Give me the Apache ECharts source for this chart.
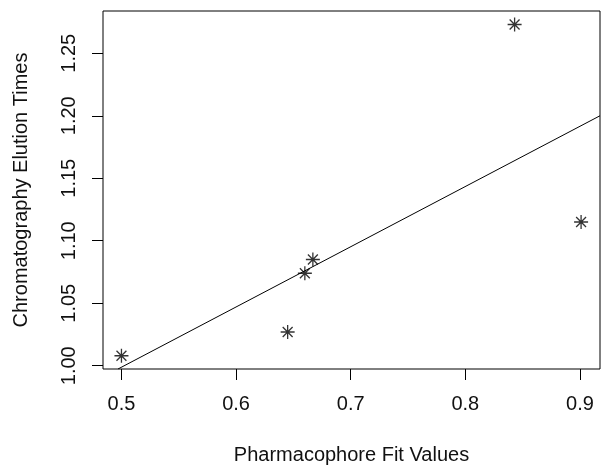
<!DOCTYPE html>
<html>
<head>
<meta charset="utf-8">
<script src="https://cdn.jsdelivr.net/npm/echarts@6/dist/echarts.min.js"></script>
<style>
  html, body { margin: 0; padding: 0; background: #fff; }
  #main { width: 610px; height: 475px; }
</style>
</head>
<body>
<div id="main"></div>
<script>
// points
var fitValues = [0.500, 0.843, 0.901, 0.667, 0.660, 0.645];
var elutionTimes = [1.008, 1.273, 1.115, 1.085, 1.074, 1.027];
// fitted line, two ends
var lineX = [0.497, 0.9175];
var lineY = [0.9974, 1.2000];
// tick labels
var xTicks = [0.5, 0.6, 0.7, 0.8, 0.9];
var yTicks = [1.00, 1.05, 1.10, 1.15, 1.20, 1.25];

function draw_elution_plot() {
    var myChart = echarts.init(document.getElementById("main"));
    var font = 'Liberation Sans, Arial, sans-serif';
    var pts = [];
    for (var i = 0; i < fitValues.length; i++) {
        pts.push([fitValues[i], elutionTimes[i]]);
    }
    var linePts = [];
    for (var j = 0; j < lineX.length; j++) {
        linePts.push([lineX[j], lineY[j]]);
    }
    // R style asterisk (pch = 8): a plus and a cross
    var asterisk = 'path://M0,-1L0,1M-1,0L1,0M-0.7071,-0.7071L0.7071,0.7071M-0.7071,0.7071L0.7071,-0.7071';

    var option = {
        animation: false,
        grid: {
            left: 103,
            right: 10,
            top: 11,
            bottom: 106,
            show: true,
            borderColor: '#000',
            borderWidth: 1
        },
        xAxis: {
            type: 'value',
            min: 0.4839,
            max: 0.9175,
            name: 'Pharmacophore Fit Values',
            nameLocation: 'middle',
            nameGap: 76,
            nameTextStyle: { color: '#111', fontSize: 20, fontFamily: font },
            axisLine: { show: false },
            splitLine: { show: false },
            axisTick: {
                show: true,
                length: 11,
                customValues: xTicks,
                lineStyle: { color: '#000', width: 1 }
            },
            axisLabel: {
                customValues: xTicks,
                margin: 25,
                color: '#111',
                fontSize: 20,
                fontFamily: font,
                formatter: function (v) { return v.toFixed(1); }
            }
        },
        yAxis: {
            type: 'value',
            min: 0.9974,
            max: 1.2838,
            name: 'Chromatography Elution Times',
            nameLocation: 'middle',
            nameRotate: 90,
            nameGap: 72,
            nameTextStyle: { color: '#111', fontSize: 20, fontFamily: font },
            axisLine: { show: false },
            splitLine: { show: false },
            axisTick: {
                show: true,
                length: 11,
                customValues: yTicks,
                lineStyle: { color: '#000', width: 1 }
            },
            axisLabel: {
                customValues: yTicks,
                rotate: 90,
                margin: 24,
                color: '#111',
                fontSize: 20,
                fontFamily: font,
                formatter: function (v) { return v.toFixed(2); }
            }
        },
        series: [
            {
                type: 'line',
                data: linePts,
                symbol: 'none',
                silent: true,
                lineStyle: { color: '#000', width: 1 }
            },
            {
                type: 'scatter',
                data: pts,
                symbol: asterisk,
                symbolSize: 14,
                itemStyle: {
                    color: 'none',
                    borderColor: '#000',
                    borderWidth: 1.3
                }
            }
        ]
    };
    myChart.setOption(option);
}

draw_elution_plot();
</script>
</body>
</html>
